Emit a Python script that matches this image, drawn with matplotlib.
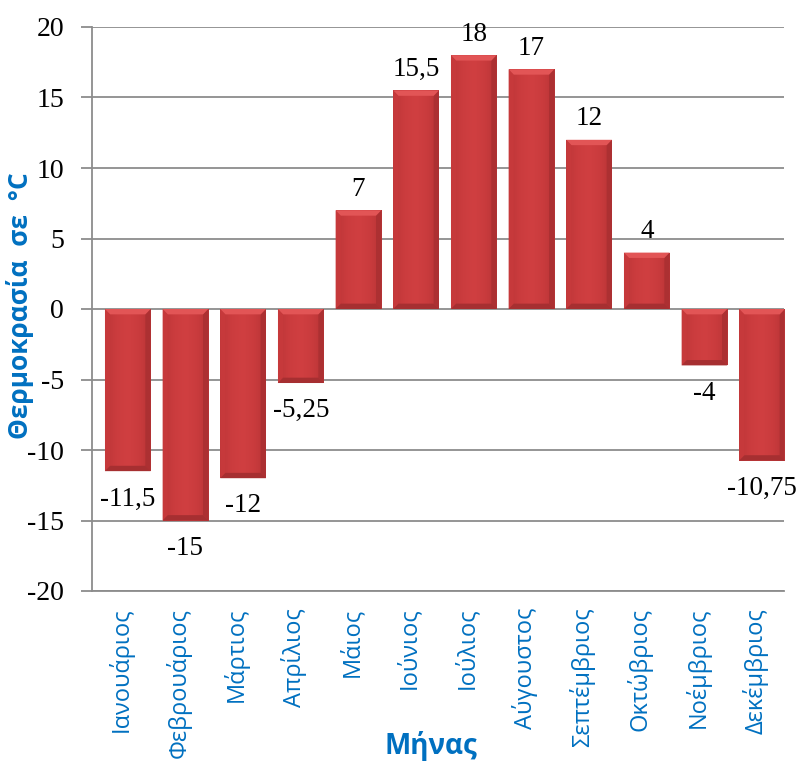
import matplotlib
matplotlib.use("Agg")
import matplotlib.pyplot as plt
import numpy as np
from matplotlib.colors import LinearSegmentedColormap

months = ["Ιανουάριος", "Φεβρουάριος", "Μάρτιος", "Απρίλιος", "Μάιος", "Ιούνιος",
          "Ιούλιος", "Αύγουστος", "Σεπτέμβριος", "Οκτώβριος", "Νοέμβριος", "Δεκέμβριος"]
temps = [-11.5, -15, -12, -5.25, 7, 15.5, 18, 17, 12, 4, -4, -10.75]
value_labels = ["-11,5", "-15", "-12", "-5,25", "7", "15,5", "18", "17", "12", "4", "-4", "-10,75"]
yticks = [-20, -15, -10, -5, 0, 5, 10, 15, 20]

blue = "#0070C0"
grid_c = "#8c8c8c"
bar_offset = 0.12  # bars drawn slightly right of the category centre, as in the reference
bar_width = 0.79

fig = plt.figure(figsize=(7.99, 7.63), dpi=100)
ax = fig.add_axes([92/799, 1-591/763, (784-92)/799, (591-27)/763])

x = np.arange(len(months))
bars = ax.bar(x + bar_offset, temps, width=bar_width, color="#C93A3C", edgecolor="none", zorder=3)

cmap = LinearSegmentedColormap.from_list("bev", ["#BC3638", "#CB3C3E", "#D03F41", "#C93B3D", "#B73436"])
grad = np.linspace(0, 1, 256).reshape(1, -1)
# bevel sizes in data units
bx = 0.09
by = 0.38
for b in bars:
    x0, w = b.get_x(), b.get_width()
    y0, h = b.get_y(), b.get_height()
    ylo, yhi = min(y0, y0 + h), max(y0, y0 + h)
    x1 = x0 + w
    im = ax.imshow(grad, extent=[x0, x1, ylo, yhi], aspect="auto", cmap=cmap,
                   zorder=4, interpolation="bicubic")
    im.set_clip_path(b)
    ax.fill([x0, x0 + bx, x0 + bx, x0], [yhi, yhi - by, ylo + by, ylo],
            color="#C6393B", zorder=5, lw=0)
    ax.fill([x1, x1 - bx, x1 - bx, x1], [yhi, yhi - by, ylo + by, ylo],
            color="#AC3032", zorder=5, lw=0)
    ax.fill([x0, x1, x1 - bx, x0 + bx], [yhi, yhi, yhi - by, yhi - by],
            color="#E25556", zorder=5, lw=0)
    ax.fill([x0, x1, x1 - bx, x0 + bx], [ylo, ylo, ylo + by, ylo + by],
            color="#A62F31", zorder=5, lw=0)

for xi, v, lab in zip(x, temps, value_labels):
    if v >= 0:
        ax.annotate(lab, (xi + bar_offset, v), xytext=(0, 6), textcoords="offset points",
                    ha="center", va="bottom", fontsize=19.5, family="Liberation Serif", zorder=6)
    else:
        ax.annotate(lab, (xi + bar_offset, v), xytext=(0, -11), textcoords="offset points",
                    ha="center", va="top", fontsize=19.5, family="Liberation Serif", zorder=6)

ax.set_xlim(-0.5, len(months) - 0.5)
ax.set_ylim(-20, 20)
ax.set_yticks(yticks)
ax.set_yticklabels([str(t) for t in yticks], fontsize=20, family="Liberation Serif")
ax.yaxis.grid(True, color=grid_c, lw=1.3, zorder=0)
ax.set_axisbelow(True)
ax.tick_params(axis="y", length=8, color=grid_c, width=1.3, pad=12)
ax.set_xticks(x)
ax.set_xticklabels(months, rotation=90, fontsize=17, color=blue, family="Open Sans", va="top")
ax.tick_params(axis="x", length=0, pad=12)

for s in ["top", "right"]:
    ax.spines[s].set_visible(False)
for s in ["left", "bottom"]:
    ax.spines[s].set_color(grid_c)
    ax.spines[s].set_linewidth(1.3)

ax.set_ylabel("Θερμοκρασία  σε  °C", fontsize=19, fontweight="bold", color=blue,
              family="Open Sans")
ax.set_xlabel("Μήνας", fontsize=20, fontweight="bold", color=blue, family="Open Sans")
ax.xaxis.set_label_coords((431-92)/(784-92), -(731-591)/(591-27))
ax.yaxis.set_label_coords(-(92-34)/(784-92), (591-306)/(591-27))

fig.savefig("out.png", dpi=100)
